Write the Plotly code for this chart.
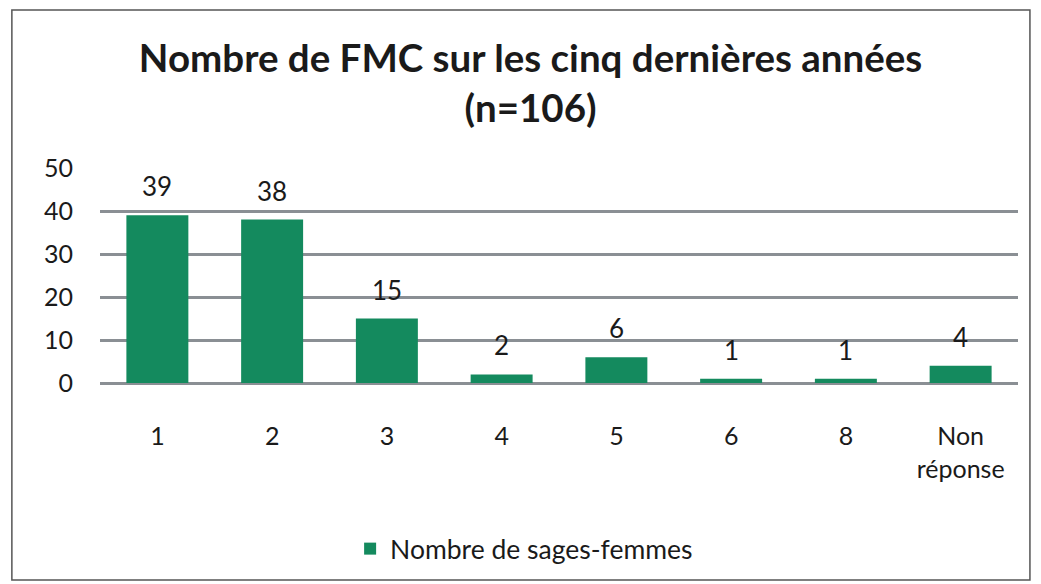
import plotly.graph_objects as go

categories = ["1", "2", "3", "4", "5", "6", "8", "Non<br>réponse"]
values = [39, 38, 15, 2, 6, 1, 1, 4]
series_name = "Nombre de sages-femmes"
title_text = "<b>Nombre de FMC sur les cinq dernières années<br>(n=106)</b>"
y_ticks = [0, 10, 20, 30, 40, 50]

green = "#148A5E"
font_family = "Lato, 'Open Sans', sans-serif"

fig = go.Figure()
fig.add_trace(go.Bar(
    x=list(range(len(categories))), y=values, name=series_name,
    marker=dict(color=green, line=dict(width=0)),
    showlegend=True,
))

for i, v in enumerate(values):
    fig.add_annotation(x=i, y=v, text=str(v), showarrow=False,
                       yanchor="bottom", yshift=11,
                       font=dict(family=font_family, size=26, color="#1a1a1a"))

fig.update_layout(
    width=1041, height=584,
    margin=dict(l=92, r=31, t=160, b=209, autoexpand=False),
    paper_bgcolor="white", plot_bgcolor="white",
    bargap=0.46,
    title=dict(text=title_text, x=0.502, xanchor="center", y=0.89, yanchor="top",
               font=dict(family=font_family, size=38.5, color="#1a1a1a")),
    font=dict(family=font_family, size=25, color="#1a1a1a"),
    xaxis=dict(tickmode="array", tickvals=list(range(len(categories))), ticktext=categories,
               range=[-0.5, len(categories) - 0.5],
               showgrid=False, showline=False, ticks="", automargin=False,
               tickfont=dict(size=25), zeroline=False, ticklabelstandoff=36),
    yaxis=dict(range=[0, 50], tickvals=y_ticks, showgrid=True, gridcolor="#8a8f94",
               gridwidth=2.5, zeroline=True, zerolinecolor="#8a8f94", zerolinewidth=3,
               showline=False, ticks="", tickfont=dict(size=25), ticklabelstandoff=26,
               automargin=False),
    legend=dict(orientation="h", x=0.462, xanchor="center", y=-0.66, yanchor="top",
                font=dict(size=26.5)),
    shapes=[dict(type="rect", xref="paper", yref="paper", x0=-0.096, x1=1.013,
                 y0=-0.916, y1=1.735, line=dict(color="#555555", width=1.5))],
)

fig.write_html("out.html")
